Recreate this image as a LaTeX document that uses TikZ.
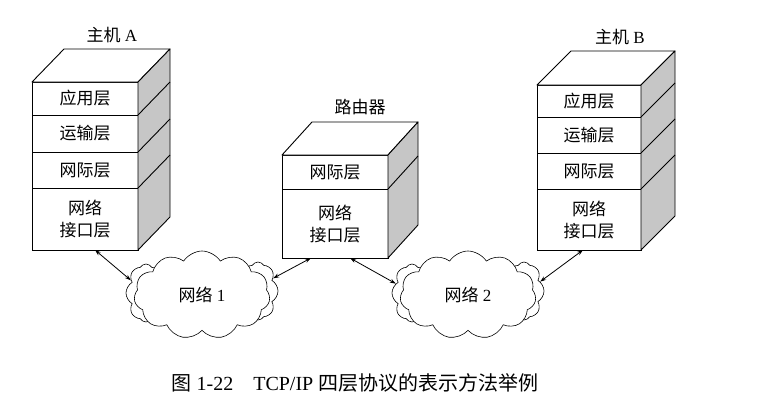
\documentclass[tikz,border=0pt]{standalone}
\usepackage{fontspec}
\setmainfont{Liberation Serif}
\newfontfamily\cjk{Noto Sans CJK SC}
\usetikzlibrary{calc,arrows.meta,shapes.symbols}

\tikzset{
  tier/.style={draw, fill=white, line width=0.9pt, minimum width=106pt, inner sep=0pt, outer sep=0pt, align=center, font=\cjk\fontsize{17pt}{22pt}\selectfont},
  sideface/.style={draw, fill=gray!45, line width=0.9pt, line join=round},
  topface/.style={draw, fill=white, line width=0.9pt, line join=round},
  netcloud/.style={cloud, cloud puffs=11, cloud puff arc=115, draw, fill=white, line width=0.6pt, inner sep=0pt, font=\fontsize{17pt}{20pt}\selectfont},
  sidepuff/.style={cloud, cloud puffs=8, cloud puff arc=120, draw, fill=white, line width=0.6pt, minimum width=40pt, minimum height=58pt, inner sep=0pt},
  linkarrow/.style={{Stealth[length=6pt,width=4pt]}-{Stealth[length=6pt,width=4pt]}, line width=0.8pt},
  label/.style={font=\fontsize{17pt}{20pt}\selectfont},
}

\begin{document}
\begin{tikzpicture}[x=1pt, y=1pt]
  \useasboundingbox (0,0) rectangle (762,-402);
  % host A
  \node[label] (hA) at (112,-35) {{\cjk 主机} A};
  \node[tier, minimum height=33pt] (a1) at (85,-98.5) {应用层};
  \node[tier, minimum height=37pt] (a2) at (85,-133.5) {运输层};
  \node[tier, minimum height=36pt] (a3) at (85,-170) {网际层};
  \node[tier, minimum height=62pt] (a4) at (85,-219) {网络\\接口层};
  \draw[topface] (a1.north west) -- ++(32,33) -- ($(a1.north east)+(32,33)$) -- (a1.north east) -- cycle;
  \draw[sideface] (a1.north east) -- ++(32,33) -- ($(a4.south east)+(32,33)$) -- (a4.south east) -- cycle;
  \foreach \n in {a1,a2,a3}
    \draw[line width=0.9pt] (\n.south east) -- ++(32,33);
  % router
  \node[label] (rt) at (360,-107) {\cjk 路由器};
  \node[tier, minimum height=34pt] (r1) at (335,-172) {网际层};
  \node[tier, minimum height=69pt] (r2) at (335,-223.5) {网络\\接口层};
  \draw[topface] (r1.north west) -- ++(30,33) -- ($(r1.north east)+(30,33)$) -- (r1.north east) -- cycle;
  \draw[sideface] (r1.north east) -- ++(30,33) -- ($(r2.south east)+(30,33)$) -- (r2.south east) -- cycle;
  \draw[line width=0.9pt] (r1.south east) -- ++(30,33);
  % host B
  \node[label] (hB) at (620,-37) {{\cjk 主机} B};
  \node[tier, minimum width=104pt, minimum height=32pt] (b1) at (589,-101) {应用层};
  \node[tier, minimum width=104pt, minimum height=36pt] (b2) at (589,-135) {运输层};
  \node[tier, minimum width=104pt, minimum height=36pt] (b3) at (589,-171) {网际层};
  \node[tier, minimum width=104pt, minimum height=61pt] (b4) at (589,-219.5) {网络\\接口层};
  \draw[topface] (b1.north west) -- ++(34,34) -- ($(b1.north east)+(34,34)$) -- (b1.north east) -- cycle;
  \draw[sideface] (b1.north east) -- ++(34,34) -- ($(b4.south east)+(34,34)$) -- (b4.south east) -- cycle;
  \foreach \n in {b1,b2,b3}
    \draw[line width=0.9pt] (\n.south east) -- ++(34,34);
  % networks
  \node[sidepuff] (n1l) at (146,-293) {};
  \node[sidepuff] (n1r) at (258,-291) {};
  \node[netcloud, minimum width=136pt, minimum height=88pt] (net1) at (202,-295) {{\cjk 网络} 1};
  \node[sidepuff] (n2l) at (412,-293) {};
  \node[sidepuff] (n2r) at (524,-291) {};
  \node[netcloud, minimum width=136pt, minimum height=88pt] (net2) at (468,-295) {{\cjk 网络} 2};
  \draw[linkarrow] ([xshift=10pt]a4.south) -- (n1l.140);
  \draw[linkarrow] ([xshift=-24pt]r2.south) -- (n1r.40);
  \draw[linkarrow] ([xshift=15pt]r2.south) -- (n2l.150);
  \draw[linkarrow] ([xshift=-6pt]b4.south) -- (n2r.30);
  % caption
  \node[font=\fontsize{20pt}{24pt}\selectfont] (cap) at (355,-383) {{\cjk 图} 1-22\quad TCP/IP {\cjk 四层协议的表示方法举例}};
\end{tikzpicture}
\end{document}
